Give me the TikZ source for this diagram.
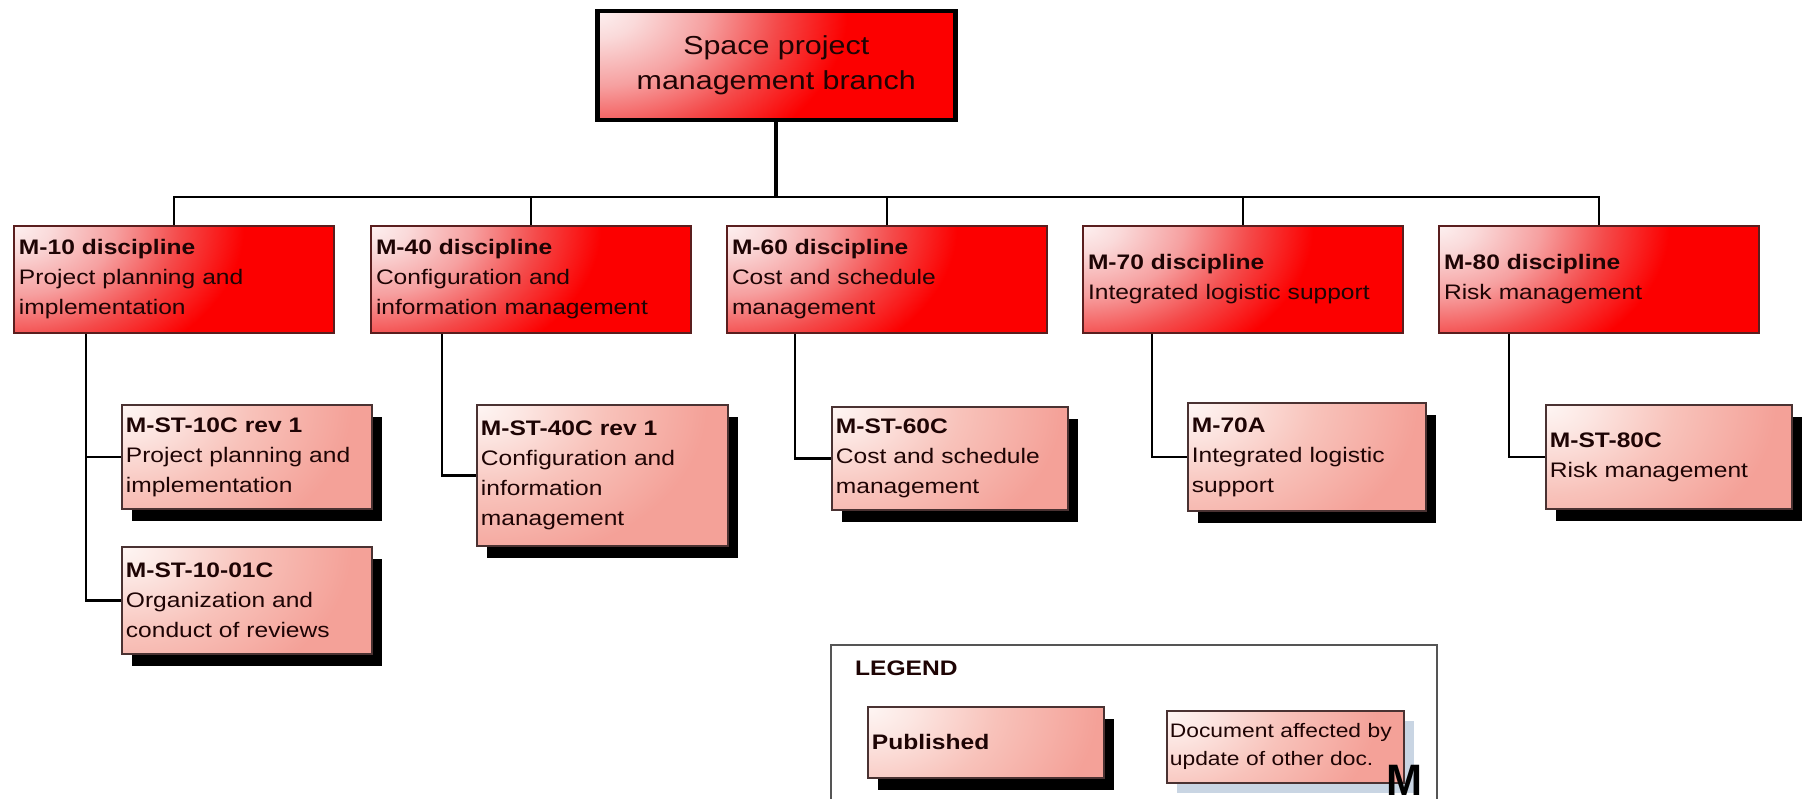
\documentclass[tikz,border=0pt]{standalone}
\usepackage{fontspec}
\setmainfont[FakeStretch=1.17]{Liberation Sans}
\usetikzlibrary{shadows}
\definecolor{ink}{HTML}{1E0404}
\definecolor{redlight}{HTML}{FDF0F0}
\definecolor{redlight2}{HTML}{FADADA}
\definecolor{redpink}{HTML}{F6A0A0}
\definecolor{redpink2}{HTML}{F44A4A}
\definecolor{redmain}{HTML}{FC0000}
\definecolor{salmonlight}{HTML}{FEF6F4}
\definecolor{salmonlight2}{HTML}{FCE6E2}
\definecolor{salmonpale}{HTML}{F8C2BA}
\definecolor{salmon}{HTML}{F4A198}
\definecolor{shadowblue}{HTML}{C9D5E3}
\definecolor{discborder}{HTML}{5A1E1E}
\definecolor{subborder}{HTML}{4A3232}
\definecolor{framegray}{HTML}{555555}
\pgfdeclareradialshading{redcorner}{\pgfpoint{0bp}{0bp}}{color(0bp)=(redlight); color(2bp)=(redlight2); color(5.5bp)=(redpink); color(9bp)=(redpink2); color(12.5bp)=(redmain); color(50bp)=(redmain)}
\pgfdeclareradialshading{salmoncorner}{\pgfpoint{0bp}{0bp}}{color(0bp)=(salmonlight); color(2.5bp)=(salmonlight2); color(7bp)=(salmonpale); color(12.5bp)=(salmon); color(50bp)=(salmon)}
\newcommand\boxfont{\fontsize{21}{30}\selectfont}
\newcommand\topfont{\fontsize{26}{35}\selectfont}
\newcommand\smallboxfont{\fontsize{19.5}{28}\selectfont}
\tikzset{
  redfill/.style={fill=redmain, path picture={\shade[shading=redcorner]
      (path picture bounding box.north west) ellipse [x radius=2*#1, y radius=1.36*#1];}},
  salmonfill/.style={fill=salmon, path picture={\shade[shading=salmoncorner]
      (path picture bounding box.north west) ellipse [x radius=2*#1, y radius=1.4*#1];}},
  topbox/.style={draw=black, line width=4.5pt, redfill=250pt,
    anchor=north west, minimum width=358pt, minimum height=109pt, align=center,
    font=\topfont, text=ink},
  disc/.style={draw=discborder, line width=2pt, redfill=230pt,
    anchor=north west, text width=310pt, inner xsep=5pt, minimum height=107pt,
    align=left, font=\boxfont, text=ink},
  sub/.style={draw=subborder, line width=1.8pt, salmonfill=230pt,
    anchor=north west, inner xsep=4pt, align=left, font=\boxfont, text=ink,
    drop shadow={shadow xshift=10pt, shadow yshift=-12pt, fill=black, opacity=1}},
  affected/.style={draw=subborder, line width=1.8pt, salmonfill=210pt,
    anchor=north west, inner xsep=3pt, align=left, font=\smallboxfont, text=ink,
    drop shadow={shadow xshift=10pt, shadow yshift=-10pt, fill=shadowblue, opacity=1}},
  conn/.style={line width=2.4pt, draw=black},
  busline/.style={line width=2.8pt, draw=black},
}
\begin{document}
\begin{tikzpicture}[x=1pt, y=-1pt]
\useasboundingbox[fill=white] (0,0) rectangle (1805,799);

% top
\node[topbox] (top) at (595,9) {Space project\\management branch};

% disciplines
\node[disc] (d10) at (13,225)   {\textbf{M-10 discipline}\\Project planning and\\implementation};
\node[disc] (d40) at (370,225)  {\textbf{M-40 discipline}\\Configuration and\\information management};
\node[disc] (d60) at (726,225)  {\textbf{M-60 discipline}\\Cost and schedule\\management};
\node[disc] (d70) at (1082,225) {\textbf{M-70 discipline}\\Integrated logistic support};
\node[disc] (d80) at (1438,225) {\textbf{M-80 discipline}\\Risk management};

% standards
\node[sub, text width=242pt, minimum height=104pt] (s10a) at (121,404) {\textbf{M-ST-10C rev 1}\\Project planning and\\implementation};
\node[sub, text width=242pt, minimum height=107pt] (s10b) at (121,546) {\textbf{M-ST-10-01C}\\Organization and\\conduct of reviews};
\node[sub, text width=243pt, minimum height=141pt] (s40) at (476,404) {\textbf{M-ST-40C rev 1}\\Configuration and\\information\\management};
\node[sub, text width=228pt, minimum height=103pt] (s60) at (831,406) {\textbf{M-ST-60C}\\Cost and schedule\\management};
\node[sub, text width=230pt, minimum height=108pt] (s70) at (1187,402) {\textbf{M-70A}\\Integrated logistic\\support};
\node[sub, text width=238pt, minimum height=104pt] (s80) at (1545,404) {\textbf{M-ST-80C}\\Risk management};

% connectors
\coordinate (bus) at (top.south |- 0,197);
\draw[line width=4pt] (top.south) -- (bus);
\foreach \n in {d10,d40,d60,d70,d80} {\draw[busline] (\n.north) |- (bus);}
\draw[conn] (d10.south west) ++(73,0) |- (s10a.west);
\draw[conn] (d10.south west) ++(73,0) |- (s10b.west);
\draw[conn] (d40.south west) ++(72,0) |- (s40.west);
\draw[conn] (d60.south west) ++(69,0) |- (s60.west);
\draw[conn] (d70.south west) ++(70,0) |- (s70.west);
\draw[conn] (d80.south west) ++(71,0) |- (s80.west);

% legend
\draw[line width=1.6pt, draw=framegray] (831,800) -- (831,645) -- (1437,645) -- (1437,800);
\node[anchor=west, font=\boxfont, text=ink, inner sep=0pt] (legend) at (855,668) {\textbf{LEGEND}};
\node[sub, text width=228pt, minimum height=71pt] (pub) at (867,706) {\textbf{Published}};
\node[affected, text width=231pt, minimum height=72pt] (aff) at (1166,710) {Document affected by\\update of other doc.};
\node[anchor=base west, inner sep=0pt, font=\fontsize{44}{44}\selectfont\bfseries, text=black] (mark) at (1386,795) {\scalebox{0.84}[1]{M}};
\end{tikzpicture}
\end{document}
